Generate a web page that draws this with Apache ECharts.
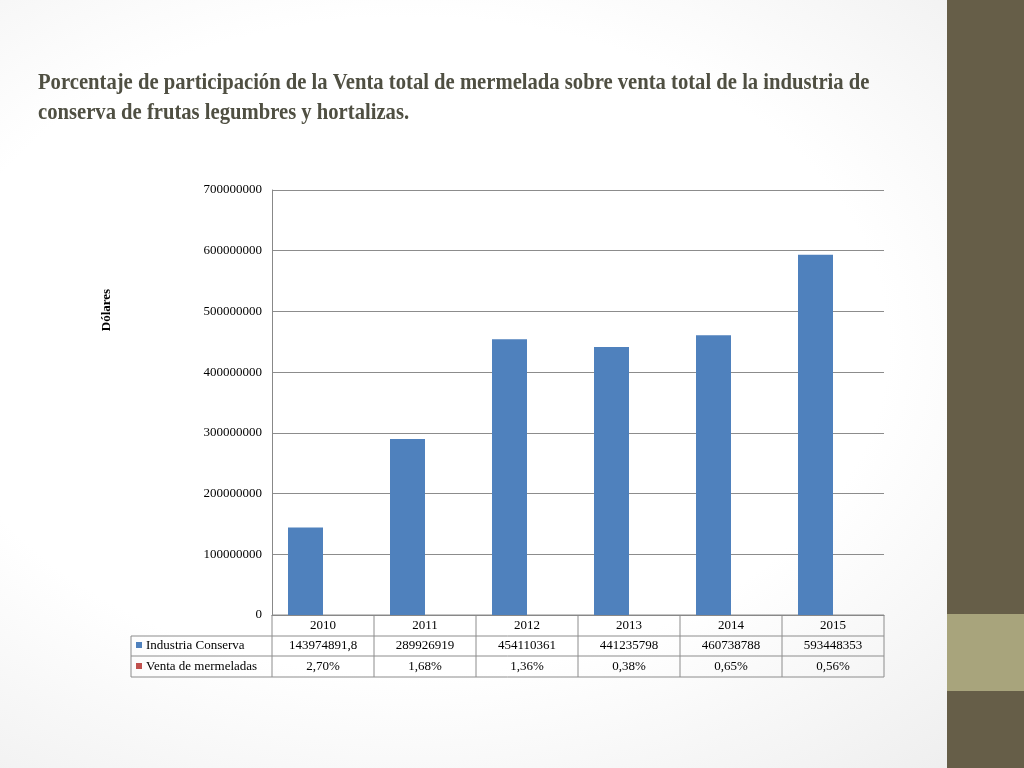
<!DOCTYPE html><html><head><meta charset="utf-8">
<script src="https://cdn.jsdelivr.net/npm/echarts@6/dist/echarts.min.js"></script>
<style>html,body{margin:0;padding:0;}#c{width:1024px;height:768px;background:radial-gradient(ellipse at 40% 45%,#ffffff 55%,#ececec 100%);}</style>
</head><body><div id="c"></div><script>
const categories=['2010','2011','2012','2013','2014','2015'];
const industria=[143974891.8,289926919,454110361,441235798,460738788,593448353];
const mermelada=[0.027,0.0168,0.0136,0.0038,0.0065,0.0056];
const industriaLabels=['143974891,8','289926919','454110361','441235798','460738788','593448353'];
const mermeladaLabels=['2,70%','1,68%','1,36%','0,38%','0,65%','0,56%'];
const ch=echarts.init(document.getElementById('c'));
const G={left:272,top:190,width:612,height:425};
const serif='"Liberation Serif","DejaVu Serif",serif';
ch.setOption({
 animation:false,
 grid:G,
 xAxis:{type:'category',data:categories,axisLine:{lineStyle:{color:'#888'}},axisTick:{show:false},axisLabel:{show:false}},
 yAxis:{type:'value',min:0,max:700000000,interval:100000000,axisLine:{show:true,lineStyle:{color:'#888'}},
  axisLabel:{fontFamily:serif,fontSize:13,color:'#000',margin:10,formatter:v=>String(v)},splitLine:{lineStyle:{color:'#8c8c8c'}}},
 series:[{type:'bar',data:industria,barWidth:35,barGap:'0%',itemStyle:{color:'#4f81bd'}},
   {type:'bar',data:mermelada,barWidth:35,itemStyle:{color:'#c0504d'}}],
 graphic:[
  {type:'rect',shape:{x:947,y:0,width:77,height:768},style:{fill:'#665e48'}},
  {type:'rect',shape:{x:947,y:614,width:77,height:77},style:{fill:'#a8a47c'}},
  {type:'text',x:38,y:68,scaleX:0.86,style:{text:'Porcentaje de participación de la Venta total de mermelada sobre venta total de la industria de\nconserva de frutas legumbres y hortalizas.',
   font:'bold 24px '+serif,fill:'#4f4f42',lineHeight:30}},
  {type:'text',x:107,y:310,rotation:Math.PI/2,style:{text:'Dólares',font:'bold 13px '+serif,fill:'#000',align:'center',verticalAlign:'middle'}}
 ]
});
const cw=G.width/6, rows=[615,636,656,677];
const g=[];
const ln=(x1,y1,x2,y2)=>g.push({type:'line',shape:{x1,y1,x2,y2},style:{stroke:'#8c8c8c',lineWidth:1}});
ln(G.left,rows[0],G.left+G.width,rows[0]);
for(let r=1;r<4;r++)ln(131,rows[r],G.left+G.width,rows[r]);
ln(131,rows[1],131,rows[3]);
for(let i=0;i<=6;i++)ln(G.left+i*cw,rows[0],G.left+i*cw,rows[3]);
const txt=(t,x,y,al)=>g.push({type:'text',x,y,style:{text:t,font:'13px '+serif,fill:'#000',align:al||'center',verticalAlign:'middle'}});
categories.forEach((c,i)=>{const x=ch.convertToPixel({xAxisIndex:0},c);txt(c,x,(rows[0]+rows[1])/2);txt(industriaLabels[i],x,(rows[1]+rows[2])/2);txt(mermeladaLabels[i],x,(rows[2]+rows[3])/2);});
g.push({type:'rect',shape:{x:136,y:642,width:6,height:6},style:{fill:'#4f81bd'}});
g.push({type:'rect',shape:{x:136,y:663,width:6,height:6},style:{fill:'#c0504d'}});
txt('Industria Conserva',146,(rows[1]+rows[2])/2,'left');
txt('Venta de mermeladas',146,(rows[2]+rows[3])/2,'left');
ch.setOption({graphic:ch.getOption().graphic[0].elements.concat(g)});
</script></body></html>
